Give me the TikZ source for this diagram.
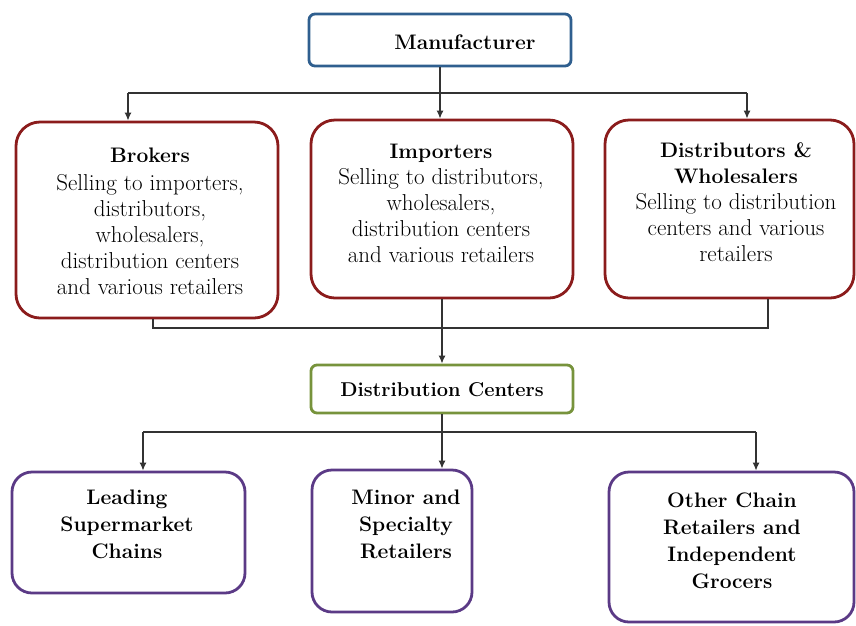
\documentclass[tikz,border=0pt]{standalone}
\usetikzlibrary{arrows.meta}
\definecolor{mblue}{HTML}{2F5F8F}
\definecolor{mred}{HTML}{8B1C1C}
\definecolor{mgreen}{HTML}{77933C}
\definecolor{mpurple}{HTML}{5B3A86}
\tikzset{
 boxb/.style={draw=mblue, line width=2.8pt, rounded corners=6pt, inner sep=0pt},
 boxr/.style={draw=mred, line width=2.8pt, rounded corners=24pt, inner sep=0pt},
 boxg/.style={draw=mgreen, line width=2.8pt, rounded corners=6pt, inner sep=0pt},
 boxp/.style={draw=mpurple, line width=2.8pt, rounded corners=20pt, inner sep=0pt},
 txt/.style={align=center, font=\fontsize{23}{26}\selectfont, inner sep=0pt},
 btxt/.style={align=center, font=\bfseries\fontsize{21}{27}\selectfont, inner sep=0pt},
 conn/.style={draw=black!80, line width=1.3pt},
 arr/.style={conn, -{Latex[length=8pt,width=7pt]}},
}
\begin{document}
\begin{tikzpicture}[x=1pt,y=-1pt]
\useasboundingbox (0,0) rectangle (856,625);
% boxes
\node[boxb, minimum width=262pt, minimum height=52pt] (man) at (440,40) {};
\node[boxr, minimum width=262pt, minimum height=196pt] (bro) at (147,220) {};
\node[boxr, minimum width=262pt, minimum height=178pt] (imp) at (442,209) {};
\node[boxr, minimum width=249pt, minimum height=178pt] (dis) at (729.5,209) {};
\node[boxg, minimum width=262pt, minimum height=48pt] (dc) at (442,389) {};
\node[boxp, minimum width=233pt, minimum height=121pt] (lead) at (128.5,532.5) {};
\node[boxp, minimum width=160pt, minimum height=142pt] (min) at (392,541) {};
\node[boxp, minimum width=245pt, minimum height=150pt] (oth) at (731.5,547) {};
% texts
\node[btxt, font=\bfseries\fontsize{21}{26}\selectfont] (man-t) at (465,42) {Manufacturer};
\node[txt] (bro-t) at (150,221) {\textbf{\fontsize{21}{26}\selectfont Brokers}\\[2pt]Selling to importers,\\distributors,\\wholesalers,\\distribution centers\\and various retailers};
\node[txt] (imp-t) at (441,203) {\textbf{\fontsize{21}{26}\selectfont Importers}\\Selling to distributors,\\wholesalers,\\distribution centers\\and various retailers};
\node[txt] (dis-t) at (736,202) {\textbf{\fontsize{21}{26}\selectfont Distributors \&}\\\textbf{\fontsize{21}{26}\selectfont Wholesalers}\\Selling to distribution\\centers and various\\retailers};
\node[btxt, font=\bfseries\fontsize{20}{26}\selectfont] (dc-t) at (442,390) {Distribution Centers};
\node[btxt] (lead-t) at (127,524) {Leading\\Supermarket\\Chains};
\node[btxt] (min-t) at (406,524) {Minor and\\Specialty\\Retailers};
\node[btxt] (oth-t) at (732,541) {Other Chain\\Retailers and\\Independent\\Grocers};
% connectors top
\coordinate (bl) at (128,93);
\coordinate (dl) at (747,93);
\draw[conn] (bl) -- (dl);
\draw[arr] (man.south) -- (man.south |- imp.north);
\draw[arr] (bl) -- (bl |- bro.north);
\draw[arr] (dl) -- (dl |- dis.north);
% connectors middle
\coordinate (c1) at (153,328);
\coordinate (c2) at (768,328);
\draw[conn] (c1 |- bro.south) -- (c1) -- (c2) -- (c2 |- dis.south);
\draw[arr] (imp.south) -- (imp.south |- dc.north);
% connectors bottom
\coordinate (l1) at (143,432);
\coordinate (l2) at (756,432);
\draw[conn] (l1) -- (l2);
\draw[arr] (dc.south) -- (dc.south |- min.north);
\draw[arr] (l1) -- (l1 |- lead.north);
\draw[arr] (l2) -- (l2 |- oth.north);
\end{tikzpicture}
\end{document}
